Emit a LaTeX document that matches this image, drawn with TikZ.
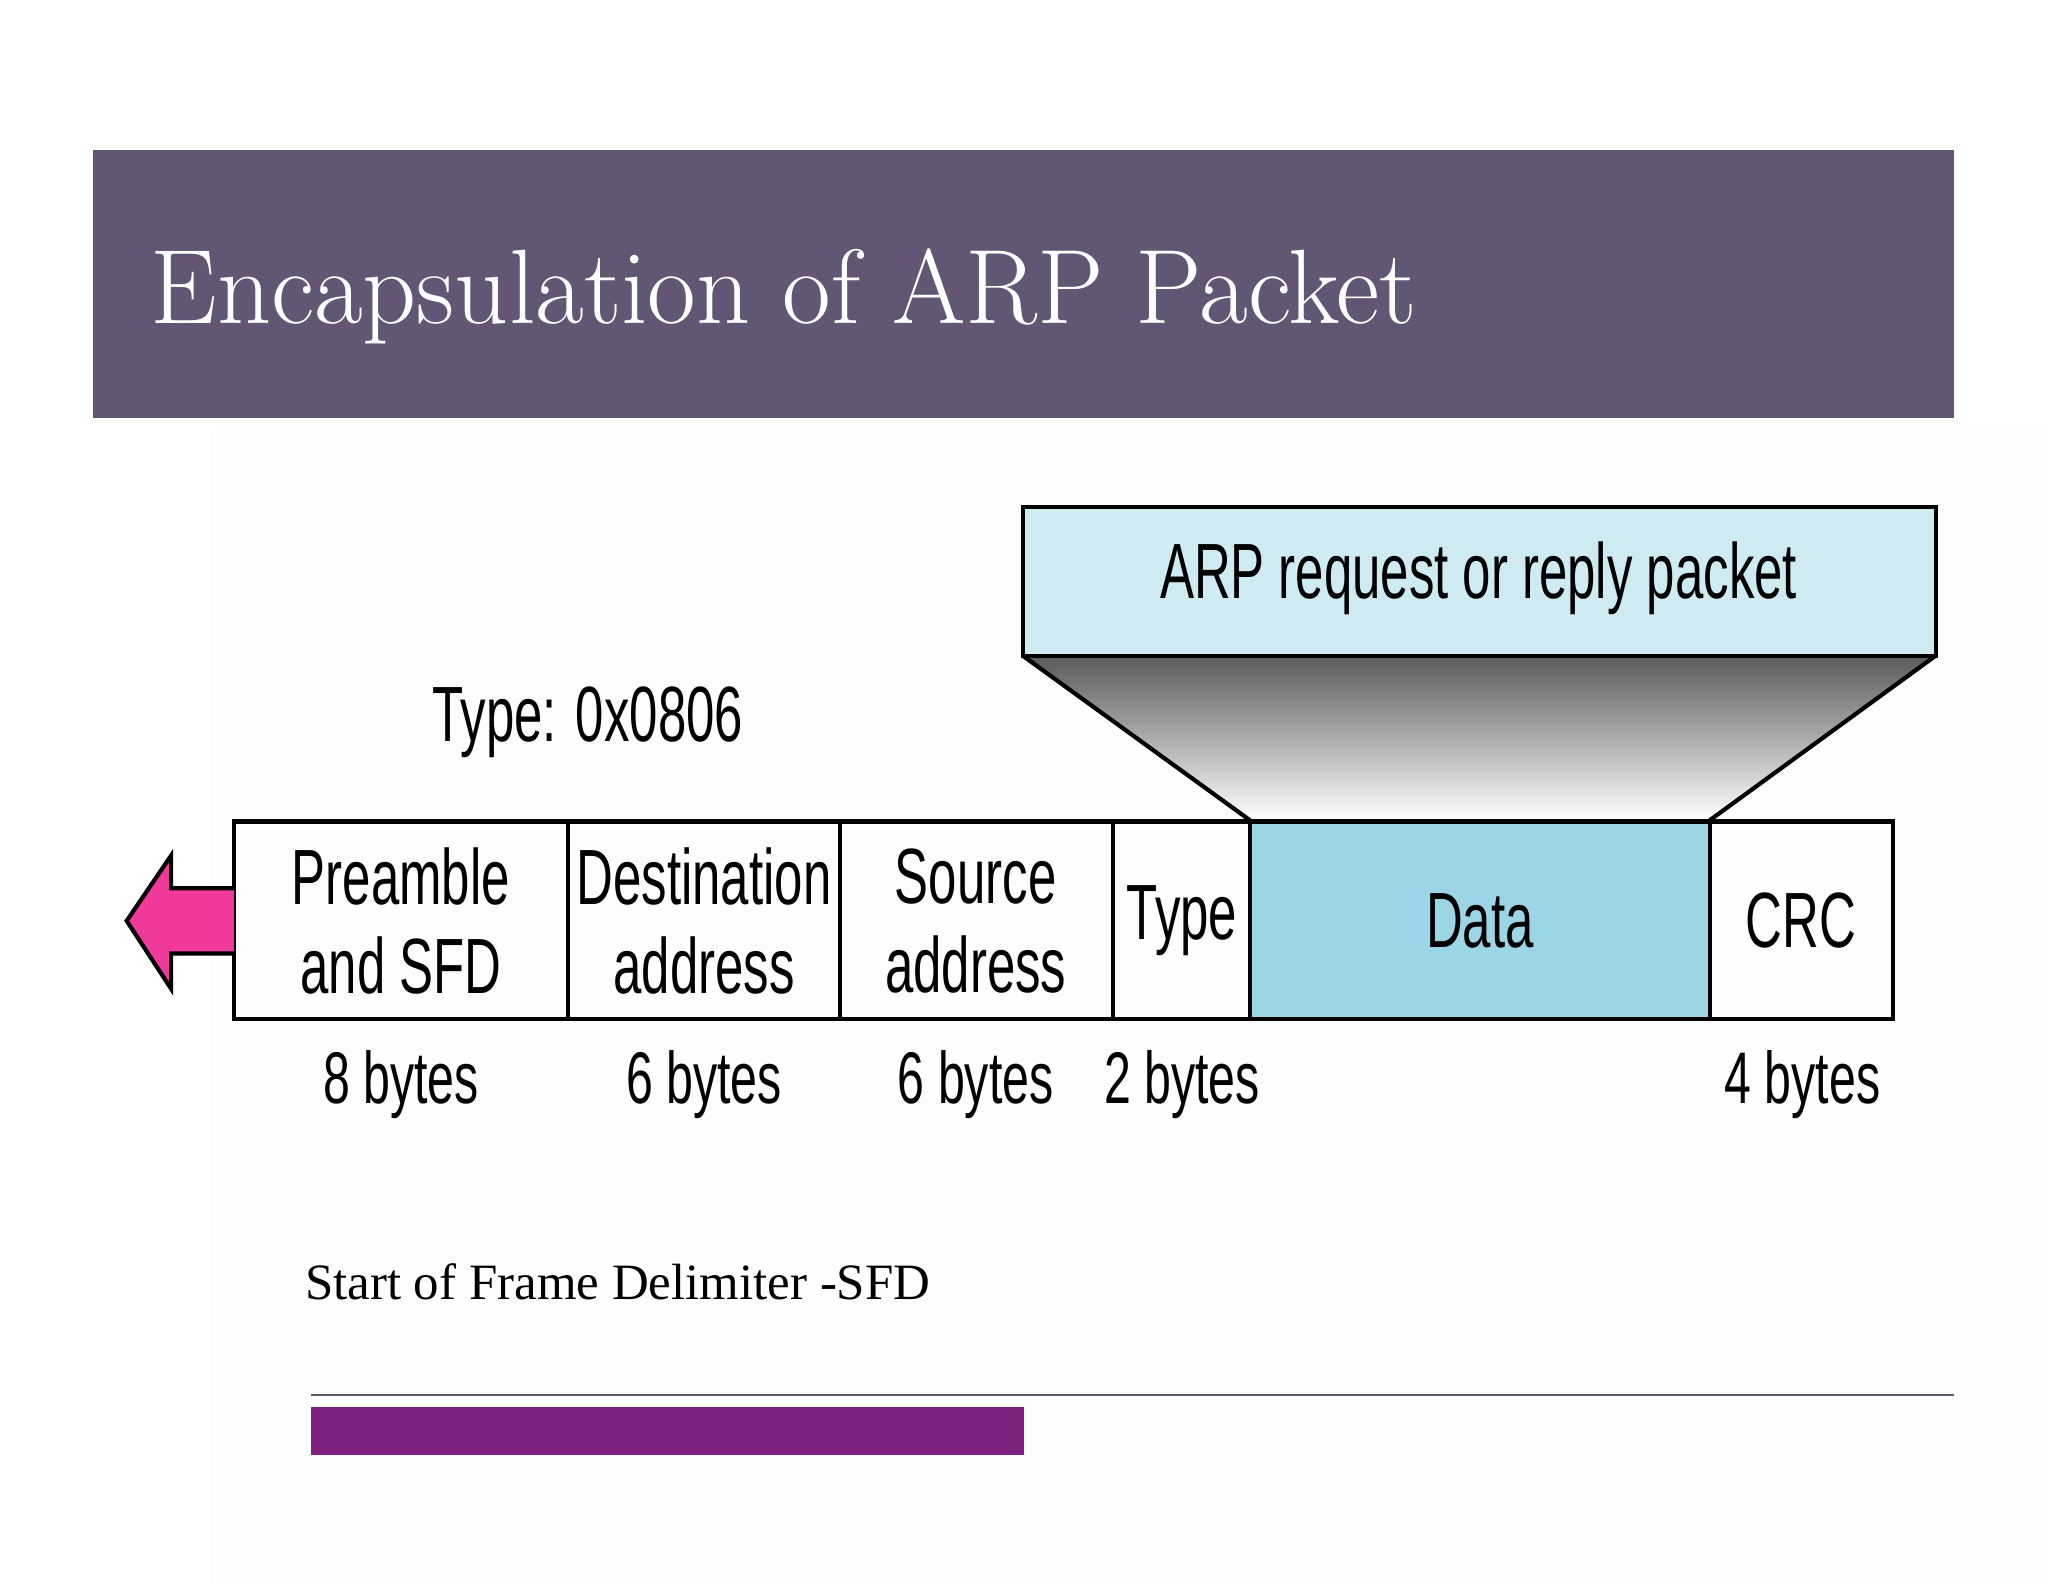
\documentclass[tikz,border=0pt]{standalone}
\usepackage{fontspec}
\setmainfont{Liberation Serif}
\newfontfamily\lm{Latin Modern Roman}
\newfontfamily\nar{Liberation Sans}
\begin{document}
\begin{tikzpicture}[x=1pt,y=-1pt,
  cell/.style={draw=black,line width=3.2pt},
  lab/.style={font=\nar\fontsize{60}{68}\selectfont,xscale=0.65,align=center},
  byt/.style={font=\nar\fontsize{56}{60}\selectfont,xscale=0.66}]
\useasboundingbox[fill=white] (0,0) rectangle (1568,1211);
\fill[gray!1.5] (160,330) rectangle (1568,1211);
\fill[fill={rgb,255:red,99;green,86;blue,117}] (71,115) rectangle (1496,320);
\node[anchor=base west,text=white,font=\lm\fontsize{81}{85}\selectfont] (title) at (112,248) {Encapsulation of ARP Packet};
% upper
\shade[top color=gray!70!black,bottom color=white] (783,502) -- (1482,502) -- (1309,628) -- (957,628) -- cycle;
\draw[line width=3.2pt] (783,502) -- (957,628) (1482,502) -- (1309,628);
\draw[cell,fill={rgb,255:red,205;green,235;blue,240}] (783,388) rectangle (1482,502);
\node[lab] (arp) at (1132,443) {ARP request or reply packet};
\node[lab] (typ) at (450,553) {Type: 0x0806};
% frame
\fill[fill={rgb,255:red,155;green,213;blue,230}] (957,629) rectangle (1309,780);
\draw[cell] (179,629) rectangle (1449,780);
\foreach \x in {435,643,852,957,1309} \draw[line width=3.2pt] (\x,629) -- (\x,780);
\node[lab] (pre) at (307,705) {Preamble\\and SFD};
\node[lab] (dst) at (539,705) {Destination\\address};
\node[lab] (src) at (747,705) {Source\\address};
\node[lab] (ty) at (905,705) {Type};
\node[lab] (dat) at (1133,705) {Data};
\node[lab] (crc) at (1379,705) {CRC};
\draw[line width=3.2pt,fill={rgb,255:red,240;green,57;blue,154}] (179,680) -- (131,680) -- (131,655) -- (97,705) -- (131,757) -- (131,730) -- (179,730);
\foreach \x/\t in {307/8,539/6,747/6,905/2,1380/4} \node[byt] at (\x,830) {\t{} bytes};
\node[anchor=base west,font=\fontsize{39}{43}\selectfont] (sfd) at (230,995) {Start of Frame Delimiter -SFD};
\draw[line width=1.5pt,color={rgb,255:red,90;green,90;blue,110}] (238,1068) -- (1496,1068);
\fill[fill={rgb,255:red,126;green,33;blue,126}] (238,1077) rectangle (784,1114);
\end{tikzpicture}
\end{document}
